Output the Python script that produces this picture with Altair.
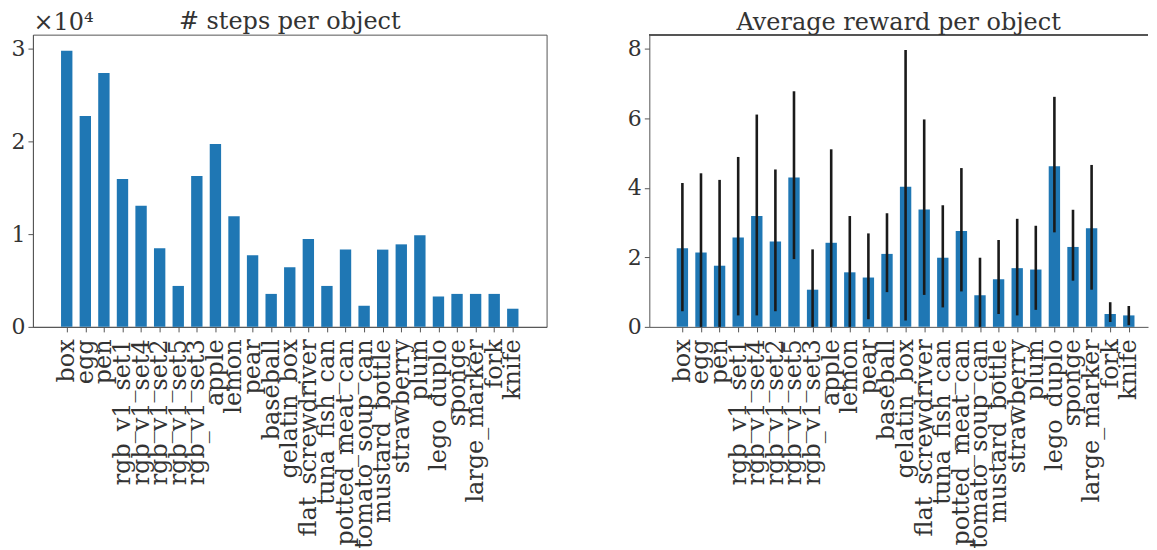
import json
import altair as alt
import pandas as pd

objects = ["box", "egg", "pen", "rgb_v1_set1", "rgb_v1_set4", "rgb_v1_set2", "rgb_v1_set5",
           "rgb_v1_set3", "apple", "lemon", "pear", "baseball", "gelatin_box", "flat_screwdriver",
           "tuna_fish_can", "potted_meat_can", "tomato_soup_can", "mustard_bottle", "strawberry",
           "plum", "lego_duplo", "sponge", "large_marker", "fork", "knife"]
steps = [29800, 22760, 27400, 15960, 13070, 8480, 4420, 16280, 19740, 11930, 7730, 3560, 6450,
         9480, 4420, 8340, 2280, 8340, 8910, 9900, 3280, 3560, 3560, 3560, 1960]
reward_mean = [2.26, 2.14, 1.76, 2.57, 3.19, 2.46, 4.30, 1.07, 2.42, 1.57, 1.42, 2.10, 4.03,
               3.38, 1.99, 2.76, 0.91, 1.37, 1.69, 1.65, 4.62, 2.30, 2.84, 0.37, 0.33]
reward_lo = [0.45, 0.0, 0.0, 0.33, 0.33, 0.45, 1.95, 0.0, 0.0, 0.0, 0.22, 1.0, 0.18, 0.92,
             0.56, 1.02, 0.0, 0.37, 0.33, 0.49, 2.72, 1.33, 1.07, 0.14, 0.05]
reward_hi = [4.14, 4.42, 4.23, 4.89, 6.11, 4.53, 6.78, 2.23, 5.11, 3.19, 2.69, 3.27, 7.97,
             5.97, 3.50, 4.57, 1.99, 2.50, 3.11, 2.91, 6.62, 3.37, 4.66, 0.71, 0.60]

df = pd.DataFrame({
    "idx": list(range(len(objects))),
    "object": objects,
    "steps": steps,
    "reward": reward_mean,
    "lo": reward_lo,
    "hi": reward_hi,
})

FONT = "DejaVu Serif"
TXT = "#333333"
LINE = "#555555"
BLUE = "#1f77b4"
label_expr = json.dumps(objects) + "[datum.value]"


def x_enc(domain):
    return alt.X(
        "idx:Q",
        scale=alt.Scale(domain=domain, nice=False, zero=False),
        axis=alt.Axis(values=list(range(len(objects))), labelExpr=label_expr, labelAngle=-90,
                      labelAlign="right", labelBaseline="middle", labelOverlap=False,
                      labelBound=False, labelFlush=False, labelPadding=7, grid=False,
                      title=None, labelFontSize=24, labelLimit=1000),
    )


def title(text, offset):
    return alt.TitleParams(text, font=FONT, fontSize=24, fontWeight="normal", color=TXT,
                           offset=offset, frame="group", anchor="middle")


left = alt.Chart(df).transform_calculate(s="datum.steps / 10000").mark_bar(
    size=11.4, color=BLUE
).encode(
    x=x_enc([-1.55, 25.55]),
    y=alt.Y("s:Q", scale=alt.Scale(domain=[0, 3.155], nice=False),
            axis=alt.Axis(values=[0, 1, 2, 3], grid=False, title="×10⁴", titleAngle=0,
                          titleX=0, titleY=-5, titleAlign="left", titleBaseline="alphabetic",
                          titleFont=FONT, titleFontSize=24, titleFontWeight="normal",
                          titleColor=TXT)),
).properties(
    width=515, height=293,
    title=title("# steps per object", -23),
    view=alt.ViewBackground(stroke=LINE, strokeWidth=1),
)

rw = 500
xr = x_enc([-1.51, -1.51 + rw / 19.03])
right_bars = alt.Chart(df).mark_bar(size=11.4, color=BLUE).encode(
    x=xr,
    y=alt.Y("reward:Q", scale=alt.Scale(domain=[0, 8.41], nice=False),
            axis=alt.Axis(values=[0, 2, 4, 6, 8], grid=False, title=None)),
)
right_err = alt.Chart(df).mark_rule(color="#1a1a1a", strokeWidth=2.6).encode(
    x=xr,
    y="lo:Q",
    y2="hi:Q",
)
top_line = alt.Chart(df).mark_rule(color=LINE, strokeWidth=1).encode(
    x=alt.value(0), x2=alt.value(rw), y=alt.value(0)
)
right = alt.layer(right_bars, right_err, top_line).properties(
    width=rw, height=293,
    title=title("Average reward per object", -1),
    view=alt.ViewBackground(stroke=None),
)

chart = alt.hconcat(left, right, spacing=80).properties(
    padding={"left": 2, "top": 0, "right": 0, "bottom": 0}
).configure_axis(
    labelFont=FONT, labelFontSize=22, labelColor=TXT, tickColor=LINE, domainColor=LINE,
    tickSize=5, tickWidth=1, domainWidth=1, labelPadding=3,
)

chart.save("out.html", embed_options={"renderer": "svg", "actions": False})
